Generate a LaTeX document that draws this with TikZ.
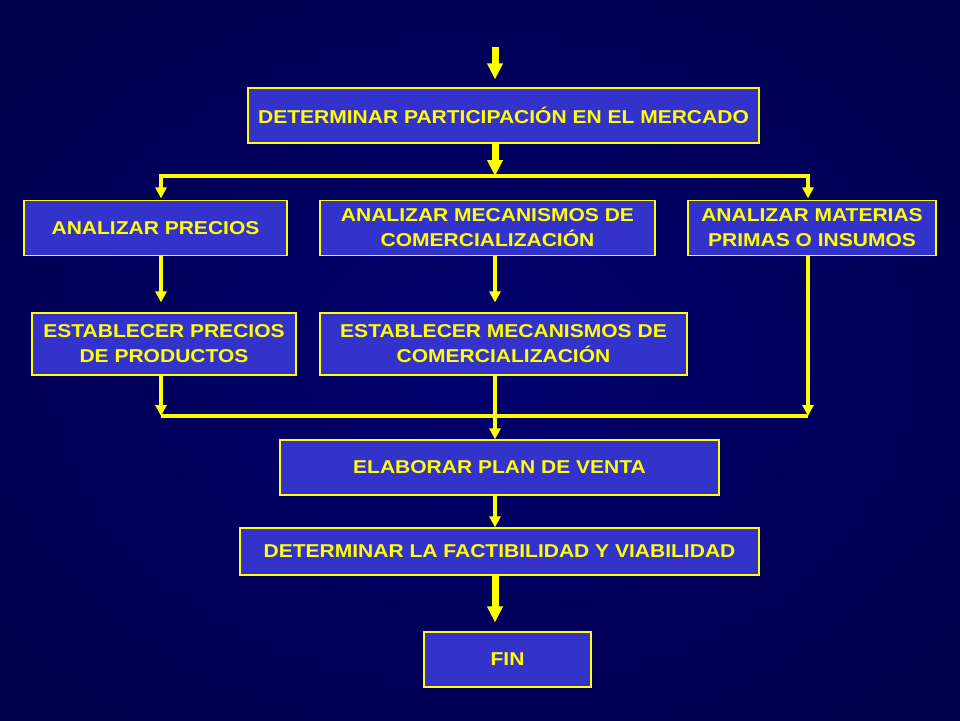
\documentclass[tikz,border=0pt]{standalone}
\usepackage{fontspec}
\usepackage{tikz}
\usetikzlibrary{arrows.meta,positioning}
\newfontfamily\slidefont{Liberation Sans}[FakeStretch=1.13]
\definecolor{boxblue}{RGB}{51,51,204}
\definecolor{boxyellow}{RGB}{255,255,0}
\definecolor{bgin}{RGB}{0,0,110}
\definecolor{bgout}{RGB}{0,0,38}
\pgfdeclareradialshading{slidebg}{\pgfpoint{0bp}{0bp}}{color(0bp)=(bgin); color(71bp)=(bgout)}

\begin{document}
\begin{tikzpicture}[x=1pt, y=-1pt, node distance=112.5pt, on grid,
    box/.style={draw=boxyellow, line width=1.2pt, fill=boxblue, text=boxyellow, inner sep=0pt, align=center,
      font=\slidefont\bfseries\fontsize{18.6}{25}\selectfont, minimum height=55pt},
    wire/.style={draw=boxyellow, line width=4pt, -{Triangle[width=11pt,length=11pt]}},
    fat/.style={draw=boxyellow, line width=7pt, -{Triangle[width=15pt,length=16pt]}},
    bus/.style={draw=boxyellow, line width=4pt}]
        \shade[shading=slidebg] (0,0) rectangle (960,720);

        \node[box, minimum width=511pt] (part) at (503.5,115.5) {DETERMINAR PARTICIPACIÓN EN EL MERCADO};
        \node[box, minimum width=263pt, below left=112.5pt and 348pt of part] (aprec) {ANALIZAR PRECIOS};
        \node[box, minimum width=335pt, below left=112.5pt and 16pt of part] (amec) {ANALIZAR MECANISMOS DE\\COMERCIALIZACIÓN};
        \node[box, minimum width=248pt, below right=112.5pt and 308.5pt of part] (amat) {ANALIZAR MATERIAS\\PRIMAS O INSUMOS};
        \node[box, minimum width=264pt, minimum height=62pt, below right=116pt and 8.5pt of aprec] (eprec) {ESTABLECER PRECIOS\\DE PRODUCTOS};
        \node[box, minimum width=367pt, minimum height=62pt, below right=116pt and 16pt of amec] (emec) {ESTABLECER MECANISMOS DE\\COMERCIALIZACIÓN};
        \node[box, minimum width=439pt, below left=123.5pt and 4pt of emec] (plan) {ELABORAR PLAN DE VENTA};
        \node[box, minimum width=519pt, minimum height=47pt, below=84pt of plan] (fact) {DETERMINAR LA FACTIBILIDAD Y VIABILIDAD};
        \node[box, minimum width=167pt, below right=108pt and 8pt of fact] (fin) {FIN};

        \coordinate (in) at (495,47);
        \coordinate (hub) at (495,176);
        \coordinate (sink) at (495,416);
        \coordinate (colL) at (161,176);
        \coordinate (colR) at (808,176);

        \draw[fat, shorten >=8pt] (in) -- (in |- part.north);
        \draw[fat] (part.south -| hub) -- (hub);
        \draw[wire, shorten >=1.5pt] (hub) -| (colL |- aprec.north);
        \draw[wire, shorten >=1.5pt] (hub) -| (colR |- amat.north);

        \draw[wire, shorten >=10pt] (aprec.south -| colL) -- (colL |- eprec.north);
        \draw[wire, shorten >=10pt] (amec.south -| hub) -- (hub |- emec.north);
        \draw[wire] (eprec.south -| colL) -- (colL |- sink);
        \draw[wire] (amat.south -| colR) -- (colR |- sink);
        \draw[bus] (colL |- sink) -- (colR |- sink);

        \draw[wire] (emec.south -| hub) -- (hub |- plan.north);
        \draw[wire] (plan.south -| hub) -- (hub |- fact.north);
        \draw[fat, shorten >=9pt] (fact.south -| hub) -- (hub |- fin.north);
\end{tikzpicture}
\end{document}
